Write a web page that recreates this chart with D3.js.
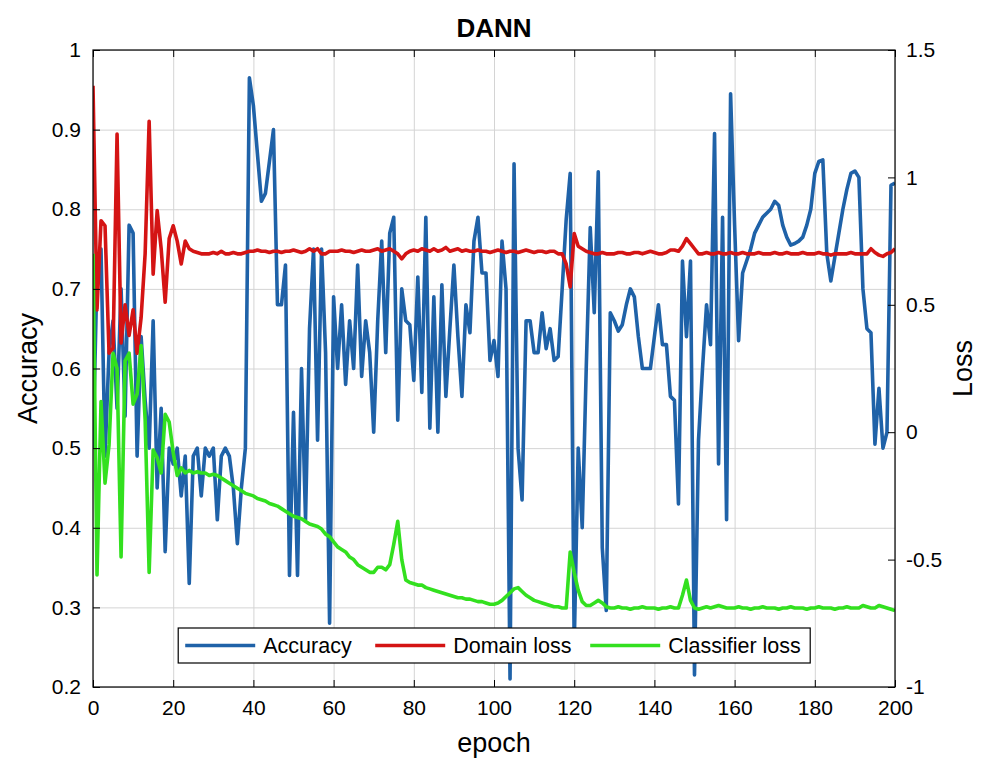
<!DOCTYPE html>
<html lang="en">
<head>
  <meta charset="UTF-8">
  <title>DANN</title>
  <style>
    body {
      margin: 0;
      padding: 0;
      background-color: #fff;
      font-family: "Liberation Sans", Arial, sans-serif;
    }
    .axis text {
      font-size: 21px;
      fill: #000;
    }
    .axis path, .axis line {
      stroke: #000;
    }
    .grid line {
      stroke: #d4d4d4;
    }
    .grid path {
      display: none;
    }
    .series {
      fill: none;
      stroke-width: 3.6px;
      stroke-linejoin: round;
    }
    .axis-label {
      font-size: 27px;
    }
  </style>
</head>
<body>
  <div class="chart"></div>

  <script src="https://d3js.org/d3.v7.min.js"></script>
  <script>
    // epochs 0..200
    const epochs = d3.range(0, 201);

    const accuracy = [
      0.50, 0.72, 0.75, 0.49, 0.62, 0.66, 0.55, 0.70, 0.54, 0.78,
      0.77, 0.49, 0.64, 0.56, 0.50, 0.66, 0.45, 0.55, 0.37, 0.50,
      0.48, 0.50, 0.44, 0.49, 0.33, 0.49, 0.50, 0.44, 0.50, 0.49,
      0.50, 0.41, 0.49, 0.50, 0.49, 0.45, 0.38, 0.45, 0.50, 0.965,
      0.93, 0.87, 0.81, 0.82, 0.86, 0.90, 0.68, 0.68, 0.73, 0.34,
      0.545, 0.34, 0.60, 0.41, 0.65, 0.75, 0.51, 0.75, 0.62, 0.28,
      0.69, 0.60, 0.68, 0.58, 0.66, 0.60, 0.73, 0.59, 0.66, 0.62,
      0.52, 0.66, 0.76, 0.62, 0.77, 0.79, 0.535, 0.70, 0.66, 0.655,
      0.585, 0.715, 0.57, 0.79, 0.525, 0.69, 0.52, 0.705, 0.565, 0.65,
      0.73, 0.64, 0.565, 0.68, 0.645, 0.76, 0.79, 0.72, 0.72, 0.61,
      0.635, 0.59, 0.76, 0.70, 0.21, 0.857, 0.50, 0.435, 0.66, 0.66,
      0.62, 0.62, 0.67, 0.625, 0.65, 0.61, 0.615, 0.70, 0.787, 0.845,
      0.25, 0.50, 0.40, 0.60, 0.777, 0.67, 0.847, 0.375, 0.296, 0.67,
      0.66, 0.647, 0.655, 0.68, 0.70, 0.69, 0.64, 0.60, 0.60, 0.60,
      0.64, 0.68, 0.63, 0.63, 0.565, 0.56, 0.43, 0.735, 0.64, 0.735,
      0.215, 0.51, 0.60, 0.68, 0.63, 0.895, 0.48, 0.79, 0.41, 0.945,
      0.78, 0.635, 0.72, 0.735, 0.75, 0.77, 0.78, 0.79, 0.795, 0.80,
      0.81, 0.805, 0.78, 0.765, 0.755, 0.757, 0.76, 0.765, 0.78, 0.80,
      0.845, 0.86, 0.862, 0.744, 0.71, 0.74, 0.77, 0.80, 0.825, 0.845,
      0.848, 0.84, 0.70, 0.65, 0.645, 0.505, 0.575, 0.50, 0.52, 0.83,
      0.833
    ];

    const domainLoss = [
      1.36, 0.48, 0.83, 0.81, 0.31, 0.33, 1.17, 0.35, 0.50, 0.38,
      0.48, 0.31, 0.45, 0.70, 1.22, 0.62, 0.87, 0.72, 0.51, 0.76,
      0.81, 0.75, 0.66, 0.75, 0.72, 0.71, 0.705, 0.70, 0.70, 0.70,
      0.705, 0.70, 0.71, 0.70, 0.70, 0.705, 0.70, 0.70, 0.705, 0.71,
      0.71, 0.715, 0.71, 0.71, 0.705, 0.71, 0.71, 0.705, 0.71, 0.71,
      0.715, 0.71, 0.705, 0.71, 0.72, 0.71, 0.72, 0.70, 0.70, 0.71,
      0.71, 0.71, 0.715, 0.71, 0.71, 0.705, 0.71, 0.715, 0.71, 0.71,
      0.715, 0.72, 0.71, 0.715, 0.72, 0.71, 0.70, 0.68, 0.70, 0.71,
      0.715, 0.71, 0.72, 0.715, 0.71, 0.72, 0.71, 0.715, 0.725, 0.71,
      0.715, 0.72, 0.71, 0.715, 0.71, 0.71, 0.715, 0.71, 0.71, 0.705,
      0.71, 0.715, 0.71, 0.705, 0.71, 0.71, 0.705, 0.71, 0.715, 0.71,
      0.705, 0.71, 0.71, 0.705, 0.71, 0.71, 0.70, 0.70, 0.66, 0.57,
      0.78, 0.73, 0.72, 0.71, 0.705, 0.70, 0.70, 0.705, 0.70, 0.70,
      0.70, 0.705, 0.705, 0.70, 0.70, 0.705, 0.705, 0.70, 0.705, 0.71,
      0.705, 0.70, 0.70, 0.705, 0.715, 0.715, 0.71, 0.73, 0.76, 0.74,
      0.72, 0.70, 0.70, 0.705, 0.70, 0.70, 0.705, 0.70, 0.70, 0.705,
      0.70, 0.70, 0.705, 0.70, 0.70, 0.70, 0.705, 0.70, 0.70, 0.70,
      0.705, 0.70, 0.70, 0.705, 0.70, 0.70, 0.70, 0.705, 0.70, 0.70,
      0.70, 0.705, 0.70, 0.70, 0.695, 0.70, 0.70, 0.70, 0.70, 0.705,
      0.70, 0.70, 0.70, 0.70, 0.72, 0.705, 0.695, 0.69, 0.70, 0.705,
      0.72
    ];

    const classifierLoss = [
      0.70, -0.56, 0.12, -0.20, -0.05, 0.31, 0.25, -0.49, 0.28, 0.31,
      0.11, 0.15, 0.34, 0.05, -0.55, -0.07, -0.10, -0.16, 0.07, 0.04,
      -0.08, -0.17, -0.14, -0.16, -0.15, -0.16, -0.155, -0.16, -0.16, -0.17,
      -0.165, -0.17, -0.18, -0.19, -0.20, -0.21, -0.22, -0.23, -0.24, -0.245,
      -0.25, -0.26, -0.265, -0.27, -0.28, -0.285, -0.29, -0.30, -0.31, -0.32,
      -0.33, -0.335, -0.34, -0.35, -0.36, -0.365, -0.37, -0.38, -0.40, -0.41,
      -0.43, -0.45, -0.46, -0.47, -0.49, -0.50, -0.52, -0.53, -0.54, -0.55,
      -0.55, -0.53, -0.53, -0.54, -0.52, -0.44, -0.35, -0.50, -0.58, -0.59,
      -0.595, -0.60, -0.60, -0.61, -0.615, -0.62, -0.625, -0.63, -0.635, -0.64,
      -0.645, -0.65, -0.65, -0.655, -0.655, -0.66, -0.665, -0.665, -0.67, -0.675,
      -0.675, -0.67, -0.66, -0.645, -0.63, -0.615, -0.61, -0.625, -0.64, -0.65,
      -0.66, -0.665, -0.67, -0.675, -0.68, -0.685, -0.685, -0.69, -0.69, -0.47,
      -0.55, -0.62, -0.665, -0.68, -0.68, -0.67, -0.66, -0.67, -0.685, -0.69,
      -0.69, -0.685, -0.69, -0.69, -0.695, -0.69, -0.69, -0.685, -0.69, -0.69,
      -0.69, -0.695, -0.69, -0.69, -0.685, -0.69, -0.69, -0.64, -0.58, -0.66,
      -0.69, -0.695, -0.69, -0.685, -0.69, -0.685, -0.68, -0.685, -0.69, -0.69,
      -0.69, -0.685, -0.69, -0.69, -0.695, -0.69, -0.69, -0.685, -0.69, -0.69,
      -0.69, -0.695, -0.69, -0.69, -0.685, -0.69, -0.69, -0.69, -0.695, -0.69,
      -0.69, -0.685, -0.69, -0.69, -0.69, -0.695, -0.69, -0.69, -0.685, -0.69,
      -0.69, -0.69, -0.68, -0.685, -0.69, -0.69, -0.68, -0.685, -0.69, -0.695,
      -0.70
    ];

    const xTicks = [0, 20, 40, 60, 80, 100, 120, 140, 160, 180, 200];
    const accTicks = [0.2, 0.3, 0.4, 0.5, 0.6, 0.7, 0.8, 0.9, 1];
    const lossTicks = [-1, -0.5, 0, 0.5, 1, 1.5];

    const seriesNames = ["Accuracy", "Domain loss", "Classifier loss"];
    const seriesColors = ["#1f62a8", "#d41414", "#33e01f"];

    const margin = { top: 50, right: 89, bottom: 71, left: 93 };
    const width = 984 - margin.left - margin.right;
    const height = 758 - margin.top - margin.bottom;

    const root = d3.select(".chart")
      .append("svg")
        .attr("width", 984)
        .attr("height", 758)
        .style("display", "block");

    const svg = root.append("g")
        .attr("transform", `translate(${margin.left},${margin.top})`);

    // Scales
    const x = d3.scaleLinear().domain([0, 200]).range([0, width]);
    const yAcc = d3.scaleLinear().domain([0.2, 1]).range([height, 0]);
    const yLoss = d3.scaleLinear().domain([-1, 1.5]).range([height, 0]);

    // Grid
    svg.append("g")
      .attr("class", "grid")
      .attr("transform", `translate(0,${height})`)
      .call(d3.axisBottom(x).tickValues(xTicks).tickSize(-height).tickFormat(""));

    svg.append("g")
      .attr("class", "grid")
      .call(d3.axisLeft(yAcc).tickValues(accTicks).tickSize(-width).tickFormat(""));

    // Lines
    const accData = epochs.map((e, i) => ({ e, v: accuracy[i] }));
    const domData = epochs.map((e, i) => ({ e, v: domainLoss[i] }));
    const clsData = epochs.map((e, i) => ({ e, v: classifierLoss[i] }));

    svg.append("clipPath").attr("id", "plot-clip")
      .append("rect").attr("width", width).attr("height", height);

    const lines = svg.append("g").attr("clip-path", "url(#plot-clip)");

    lines.append("path")
      .datum(accData)
      .attr("class", "series")
      .attr("stroke", seriesColors[0])
      .attr("d", d3.line().x(d => x(d.e)).y(d => yAcc(d.v)));

    lines.append("path")
      .datum(domData)
      .attr("class", "series")
      .attr("stroke", seriesColors[1])
      .attr("d", d3.line().x(d => x(d.e)).y(d => yLoss(d.v)));

    lines.append("path")
      .datum(clsData)
      .attr("class", "series")
      .attr("stroke", seriesColors[2])
      .attr("d", d3.line().x(d => x(d.e)).y(d => yLoss(d.v)));

    // Axes (ticks pointing inward, MATLAB style)
    const fmt = d => String(d);

    svg.append("g")
      .attr("class", "axis")
      .attr("transform", `translate(0,${height})`)
      .call(d3.axisBottom(x).tickValues(xTicks).tickSize(-7).tickPadding(13).tickFormat(fmt))
      .call(g => g.select(".domain").remove());

    svg.append("g")
      .attr("class", "axis")
      .call(d3.axisTop(x).tickValues(xTicks).tickSize(-7).tickFormat(""))
      .call(g => g.select(".domain").remove());

    svg.append("g")
      .attr("class", "axis")
      .call(d3.axisLeft(yAcc).tickValues(accTicks).tickSize(-7).tickPadding(12).tickFormat(fmt))
      .call(g => g.select(".domain").remove());

    svg.append("g")
      .attr("class", "axis")
      .attr("transform", `translate(${width},0)`)
      .call(d3.axisRight(yLoss).tickValues(lossTicks).tickSize(-7).tickPadding(11).tickFormat(fmt))
      .call(g => g.select(".domain").remove());

    // Frame
    svg.append("rect")
      .attr("width", width)
      .attr("height", height)
      .attr("fill", "none")
      .attr("stroke", "#000")
      .attr("stroke-width", 1.2);

    // Legend
    const legend = svg.append("g")
      .attr("transform", `translate(${x(21.25)},${height - 59})`);

    legend.append("rect")
      .attr("width", 632)
      .attr("height", 35)
      .attr("fill", "#fff")
      .attr("stroke", "#000")
      .attr("stroke-width", 1.2);

    const itemX = [7, 197, 412];
    seriesNames.forEach((name, i) => {
      const item = legend.append("g").attr("transform", `translate(${itemX[i]},17.5)`);
      item.append("line")
        .attr("x1", 0).attr("x2", 70)
        .attr("stroke", seriesColors[i])
        .attr("stroke-width", 3.6);
      item.append("text")
        .attr("x", 78)
        .attr("dy", "0.35em")
        .style("font-size", "21.5px")
        .text(name);
    });

    // Title and axis labels
    root.append("text")
      .attr("x", margin.left + width / 2)
      .attr("y", 37)
      .attr("text-anchor", "middle")
      .style("font-size", "26px")
      .style("font-weight", "bold")
      .text("DANN");

    root.append("text")
      .attr("class", "axis-label")
      .attr("text-anchor", "middle")
      .attr("x", margin.left + width / 2)
      .attr("y", 752)
      .text("epoch");

    root.append("text")
      .attr("class", "axis-label")
      .attr("text-anchor", "middle")
      .attr("transform", `translate(37,${margin.top + height / 2}) rotate(-90)`)
      .text("Accuracy");

    root.append("text")
      .attr("class", "axis-label")
      .attr("text-anchor", "middle")
      .attr("transform", `translate(972,${margin.top + height / 2}) rotate(-90)`)
      .text("Loss");
  </script>
</body>
</html>
